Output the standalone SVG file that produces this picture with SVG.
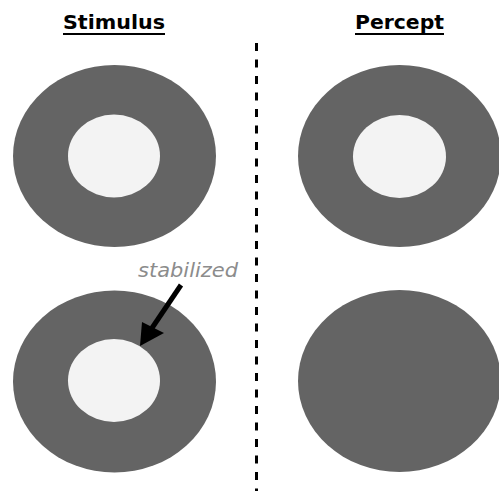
<svg xmlns="http://www.w3.org/2000/svg" width="499" height="491" viewBox="0 0 499 491">
<style>
.outer{fill:#646464}
.inner{fill:#f3f3f3}
.title{font-family:"DejaVu Sans",sans-serif;font-weight:bold;font-size:20px;fill:#000;text-anchor:middle}
.ul{stroke:#000;stroke-width:2}
.lbl{font-family:"DejaVu Sans",sans-serif;font-style:italic;font-size:20px;fill:#8c8c8c}
</style>
<rect width="499" height="491" fill="#fff"/>
<g id="title-stimulus">
<text class="title" x="114" y="29" textLength="102" lengthAdjust="spacingAndGlyphs">Stimulus</text>
<line class="ul" x1="63" y1="34" x2="165" y2="34"/>
</g>
<g id="title-percept">
<text class="title" x="399.5" y="29" textLength="89" lengthAdjust="spacingAndGlyphs">Percept</text>
<line class="ul" x1="355" y1="34" x2="444" y2="34"/>
</g>
<g id="stim-top">
<ellipse class="outer" cx="114.5" cy="156" rx="101.5" ry="91"/>
<ellipse class="inner" cx="114" cy="156" rx="46" ry="41.5"/>
</g>
<g id="percept-top">
<ellipse class="outer" cx="399.5" cy="156" rx="101.5" ry="91"/>
<ellipse class="inner" cx="399.5" cy="156.5" rx="46.5" ry="41.5"/>
</g>
<g id="stim-bottom">
<ellipse class="outer" cx="114.5" cy="381.5" rx="101.5" ry="91"/>
<ellipse class="inner" cx="114" cy="380.5" rx="46" ry="41.5"/>
</g>
<g id="percept-bottom">
<ellipse class="outer" cx="399.5" cy="381" rx="101.5" ry="91"/>
</g>
<g id="stabilized-label">
<text class="lbl" x="138" y="277" textLength="100" lengthAdjust="spacingAndGlyphs">stabilized</text>
</g>
<g id="connectors">
<line x1="256.5" y1="43" x2="256.5" y2="491" stroke="#000" stroke-width="3" stroke-dasharray="8 8.5"/>
<line x1="181" y1="285" x2="152" y2="328" stroke="#000" stroke-width="5"/>
<polygon points="140,346 142,322 164,333" fill="#000"/>
</g>
</svg>
